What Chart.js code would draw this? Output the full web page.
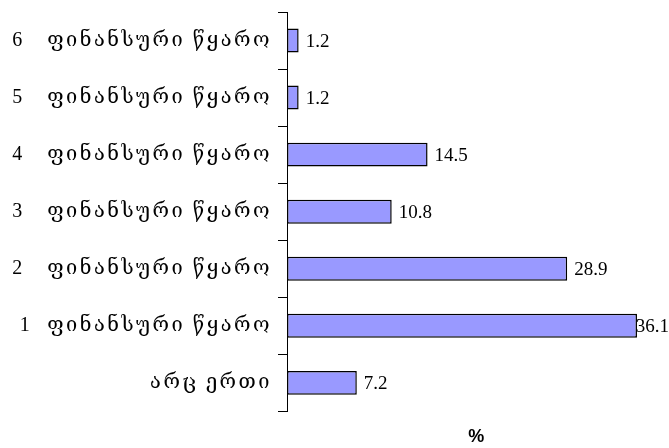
<!DOCTYPE html>
<html>
<head>
<meta charset="utf-8">
<script src="https://cdn.jsdelivr.net/npm/chart.js@4.4.1/dist/chart.umd.min.js"></script>
<style>
html,body{margin:0;padding:0;background:#fff;}
#wrap{width:669px;height:448px;position:relative;}
</style>
</head>
<body>
<div id="wrap"><canvas id="c" width="669" height="448"></canvas></div>
<script>
const categories = ["6   ფინანსური წყარო","5   ფინანსური წყარო","4   ფინანსური წყარო","3   ფინანსური წყარო","2   ფინანსური წყარო","1  ფინანსური წყარო","არც ერთი"];
const values = [1.2, 1.2, 14.5, 10.8, 28.9, 36.1, 7.2];
const axisTitle = "%";

const spacing = {
  id: 'spacing',
  beforeDraw(chart) { chart.ctx.letterSpacing = '2.5px'; },
  beforeDatasetsDraw(chart) { chart.ctx.letterSpacing = '0px'; }
};

const valueLabels = {
  id: 'valueLabels',
  afterDatasetsDraw(chart) {
    const ctx = chart.ctx;
    const meta = chart.getDatasetMeta(0);
    ctx.save();
    ctx.letterSpacing = '0px';
    ctx.font = '19px "Liberation Serif"';
    ctx.fillStyle = '#000';
    ctx.textBaseline = 'middle';
    ctx.textAlign = 'left';
    meta.data.forEach((bar, i) => {
      const txt = String(values[i]);
      const w = ctx.measureText(txt).width;
      const x = Math.min(bar.x + 7, chart.width - w);
      ctx.fillText(txt, x, bar.y + 1);
    });
    ctx.restore();
  }
};

new Chart(document.getElementById('c'), {
  type: 'bar',
  data: {
    labels: categories,
    datasets: [{
      data: values,
      backgroundColor: '#9999FF',
      borderColor: '#000000',
      borderWidth: 1.5,
      borderSkipped: false,
      barPercentage: 0.42,
      categoryPercentage: 1.0
    }]
  },
  options: {
    indexAxis: 'y',
    responsive: false,
    animation: false,
    layout: { padding: { top: 12, right: 1, left: 0, bottom: 0 } },
    plugins: { legend: { display: false }, tooltip: { enabled: false } },
    scales: {
      x: {
        min: 0, max: 39.3,
        ticks: { display: false },
        grid: { display: false },
        border: { display: false },
        title: { display: true, text: axisTitle, color: '#000', font: { family: '"Liberation Sans", Arial', size: 18, weight: 'bold' }, padding: { top: 7, bottom: 0 } }
      },
      y: {
        afterFit(axis) { axis.width = 287; axis.paddingTop = 0; axis.paddingBottom = 0; },
        grid: { display: true, drawOnChartArea: false, drawTicks: true, tickLength: 9, color: '#000', offset: true },
        border: { display: true, color: '#000', width: 1 },
        ticks: { color: '#000', padding: 6, font: { family: '"Liberation Serif", "DejaVu Serif"', size: 20 } }
      }
    }
  },
  plugins: [spacing, valueLabels]
});
</script>
</body>
</html>
